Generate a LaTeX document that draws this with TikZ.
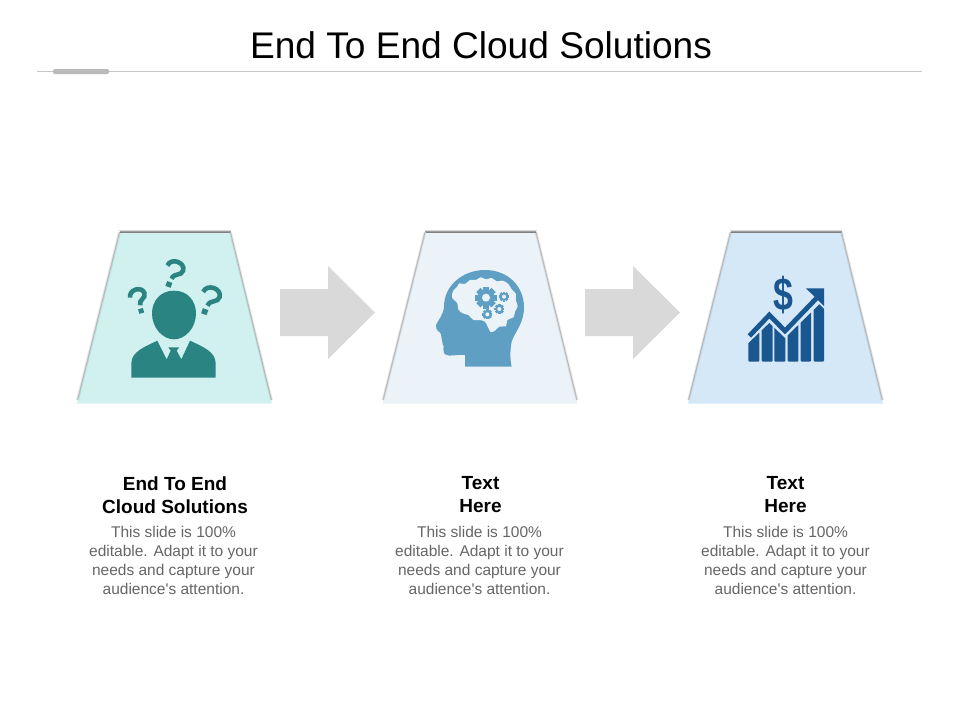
\documentclass[tikz,border=0pt]{standalone}
\usepackage{fontspec}
\setmainfont[Ligatures=TeXOff]{Liberation Sans}
\definecolor{cardA}{HTML}{D1F0F0}
\definecolor{cardB}{HTML}{EBF3F8}
\definecolor{cardC}{HTML}{D5E8F8}
\definecolor{iconA}{HTML}{2A8582}
\definecolor{iconB}{HTML}{609FC4}
\definecolor{iconC}{HTML}{1A5690}
\definecolor{bodygray}{HTML}{666666}
\newcommand{\geartooth}[4]{%
  \foreach \a in {0,45,...,315}
    \fill[iconB,rotate around={\a:(#1,#2)}] (#1-#3*.36,#2) rectangle (#1+#3*.36,#2-#3*1.3);
  \fill[iconB] (#1,#2) circle [radius=#3];
  \fill[cardB] (#1,#2) circle [radius=#4];
}
\newcommand{\qmark}[4]{%
  \begin{scope}[shift={(#1,#2)},rotate=#3,scale=#4]
    \draw[iconA,line width=4.6pt] (-21,-13) .. controls (-19,-38) and (22,-38) .. (24,-15)
      .. controls (25,2) and (3,-2) .. (2,17);
    \fill[iconA] (-7,27) rectangle (8,41);
  \end{scope}
}
\tikzset{
  head text/.style={font=\fontsize{19}{23}\selectfont\bfseries,text=black,align=center,inner sep=0pt},
  body text/.style={font=\fontsize{15.5}{19}\selectfont,text=bodygray,align=center,inner sep=0pt},
  flow arrow/.style={fill=black!15},
}
\begin{document}
\begin{tikzpicture}[x=1pt,y=-1pt]
\useasboundingbox (0,0) rectangle (960,720);
\fill[white] (0,0) rectangle (960,720);
\node (title) at (481,45) [font=\fontsize{37.1}{40}\selectfont,inner sep=0pt] {End To End Cloud Solutions};
\draw[black!22,line width=1pt] (37,71) -- (922,71);
\fill[black!27,rounded corners=1.5pt] (53,69) rectangle (109,74);
% cards
\foreach \xa/\cardcol in {0/cardA,305.5/cardB,611/cardC}{
  \begin{scope}[xshift=\xa pt]
    \fill[\cardcol] (77,403.5) -- (120,232) -- (230,232) -- (272,403.5) -- cycle;
    \draw[black,opacity=.08,line width=2.8pt] (77.5,400) -- (119.5,232) (271.5,400) -- (230.5,232);
    \draw[black,opacity=.2,line width=1pt] (77.5,400) -- (119.5,232) (271.5,400) -- (230.5,232);
    \fill[black!15] (119,229.5) rectangle (231,231);
    \fill[black!38] (119.5,231) rectangle (230.5,232);
    \fill[black!50] (120,232) rectangle (230,233);
  \end{scope}
}
% arrows
\foreach \xa in {0,305}
  \fill[flow arrow,xshift=\xa pt] (280,289) -- (328,289) -- (328,266) -- (375,312.5) -- (328,359) -- (328,336) -- (280,336) -- cycle;
% person
\begin{scope}[shift={(60,220)},scale=1/3]
  \fill[iconA] (342,212) .. controls (385,212) and (408,245) .. (408,280)
    .. controls (408,325) and (375,358) .. (342,358)
    .. controls (309,358) and (276,325) .. (276,280)
    .. controls (276,245) and (299,212) .. (342,212) -- cycle;
  \fill[iconA] (214,473) -- (214,430) .. controls (214,395) and (255,380) .. (292,362)
    -- (320,418) -- (332,392) -- (325,382) -- (358,382) -- (350,392) -- (364,418)
    -- (390,362) .. controls (428,380) and (467,395) .. (467,430) -- (467,473) -- cycle;
  \qmark{339}{158}{-20}{1.1}
  \qmark{234}{240}{15}{1}
  \qmark{447}{238}{-20}{1.15}
\end{scope}
% head with brain
\begin{scope}[shift={(370,220)},scale=1/3]
  \fill[iconB] (285,440) -- (285,405) .. controls (260,402) and (240,412) .. (225,403)
    .. controls (215,395) and (225,378) .. (218,372) .. controls (213,365) and (220,358) .. (214,352)
    .. controls (212,345) and (216,342) .. (210,338) .. controls (200,330) and (195,322) .. (198,315)
    .. controls (205,300) and (220,285) .. (222,260)
    .. controls (222,195) and (280,150) .. (345,150)
    .. controls (415,150) and (462,200) .. (462,262)
    .. controls (462,310) and (435,335) .. (425,365) .. controls (420,390) and (420,420) .. (425,440) -- cycle;
  \fill[cardB] plot[smooth cycle,tension=.55] coordinates {(246,232) (250,212) (262,200) (268,190) (285,192) (300,180) (318,180) (332,172) (348,178) (365,174) (380,184) (398,182) (415,192) (425,208) (438,222) (437,240) (443,258) (435,275) (430,292) (412,300) (408,318) (388,320) (375,332) (362,336) (354,322) (345,305) (328,300) (310,300) (295,285) (278,280) (265,268) (262,250)};
  \geartooth{348}{233}{25}{12}
  \geartooth{402}{230}{11.5}{6}
  \geartooth{388}{267}{11.5}{6}
  \geartooth{352}{283}{11.5}{6}
\end{scope}
% chart
\begin{scope}[shift={(680,220)},scale=1/3]
  \begin{scope}
    \clip (190,384) -- (268,309) -- (315,354) -- (418,253) -- (440,275) -- (440,430) -- (190,430) -- cycle;
    \foreach \xl/\xr in {205/238,245/278,283/316,323/355,362/393,401/432}
      \fill[iconC,rounded corners=1pt] (\xl,240) rectangle (\xr,425);
  \end{scope}
  \draw[iconC,line width=4.8pt,line join=miter] (208,348) -- (268,285) -- (315,333) -- (412,232);
  \fill[iconC] (378,205) -- (432,205) -- (432,258) -- cycle;
  \node[iconC,font=\fontsize{42}{42}\selectfont\bfseries] (dollar) at (311,226) {\scalebox{.85}[1.1]{\$}};
\end{scope}
% labels
\node[head text] (heada) at (175,495.5) {End To End\\Cloud Solutions};
\node[head text] (headb) at (480.5,495) {Text\\Here};
\node[head text] (headc) at (785.5,495) {Text\\Here};
\node[body text] (bodya) at (173.5,560) {This slide is 100\%\\editable. Adapt it to your\\needs and capture your\\audience's attention.};
\node[body text] (bodyb) at (479.5,560) {This slide is 100\%\\editable. Adapt it to your\\needs and capture your\\audience's attention.};
\node[body text] (bodyc) at (785.5,560) {This slide is 100\%\\editable. Adapt it to your\\needs and capture your\\audience's attention.};
\end{tikzpicture}
\end{document}
